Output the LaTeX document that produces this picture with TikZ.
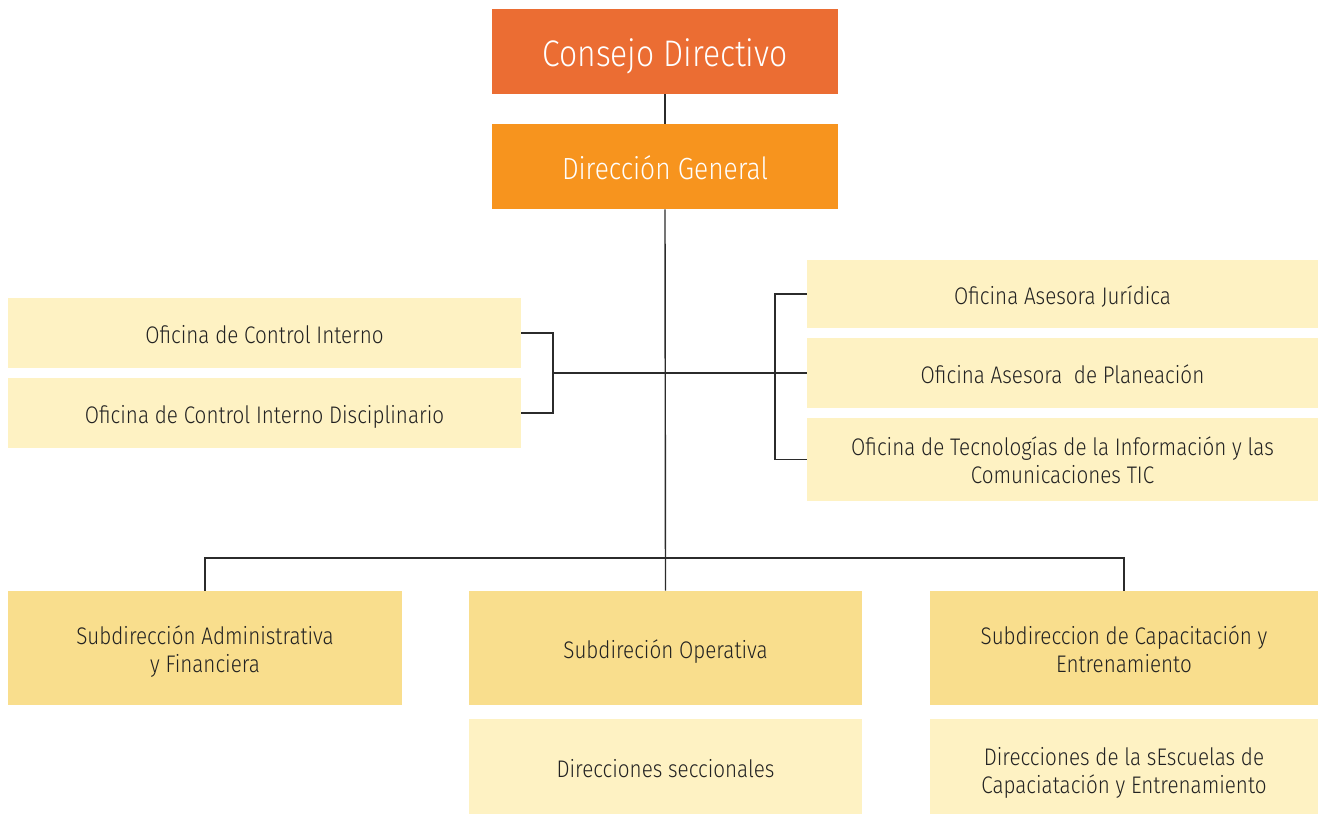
\documentclass[tikz,border=0pt]{standalone}
\usepackage{fontspec}
\setmainfont[FakeStretch=0.86, UprightFont={* Light}, BoldFont={*}]{Fira Sans}
\definecolor{cdcol}{HTML}{EB6D33}
\definecolor{dgcol}{HTML}{F7941E}
\definecolor{lightcol}{HTML}{FEF2C3}
\definecolor{subcol}{HTML}{F9DE8D}
\definecolor{linecol}{HTML}{2B2B2B}
\definecolor{txtcol}{HTML}{222222}
\tikzset{
  box/.style={rectangle, inner sep=0pt, align=center, text=txtcol, font=\fontsize{12}{14}\selectfont},
  one/.style={text height=10.6pt, text depth=0pt},
  two/.style={text height=#1, text depth=0pt},
  topbox/.style={box, text=white},
  conn/.style={draw=linecol, line width=0.7pt}
}
\begin{document}
\begin{tikzpicture}[x=0.5pt,y=-0.5pt]
\useasboundingbox (0,0) rectangle (1319,815);
\node[topbox, fill=cdcol, minimum width=173pt, minimum height=42.5pt, text height=15pt, text depth=0pt, font=\fontsize{18.5}{20}\selectfont] (cd) at (665,51.5) {Consejo Directivo};
\node[topbox, fill=dgcol, minimum width=173pt, minimum height=42.5pt, text height=12.9pt, text depth=0pt, font=\fontsize{15.3}{17}\selectfont] (dg) at (665,166.5) {Dirección General};
\node[box, one, fill=lightcol, minimum width=256.5pt, minimum height=35pt] (oci) at (264.5,333) {Oficina de Control Interno};
\node[box, one, fill=lightcol, minimum width=256.5pt, minimum height=35pt] (ocid) at (264.5,413) {Oficina de Control Interno Disciplinario};
\node[box, one, fill=lightcol, minimum width=255.5pt, minimum height=34pt] (oaj) at (1062.5,294) {Oficina Asesora Jurídica};
\node[box, one, fill=lightcol, minimum width=255.5pt, minimum height=35pt] (oap) at (1062.5,373) {Oficina Asesora\ \ de Planeación};
\node[box, two=23.7pt, fill=lightcol, minimum width=255.5pt, minimum height=41.5pt] (otic) at (1062.5,459.5) {Oficina de Tecnologías de la Información y las\\Comunicaciones TIC};
\node[box, two=24.2pt, fill=subcol, minimum width=197pt, minimum height=57pt] (sa) at (205,648) {Subdirección Administrativa\\y Financiera};
\node[box, one, fill=subcol, minimum width=196.5pt, minimum height=57pt] (so) at (665.5,648) {Subdireción Operativa};
\node[box, two=24.2pt, fill=subcol, minimum width=194pt, minimum height=57pt] (sc) at (1124,648) {Subdireccion de Capacitación y\\Entrenamiento};
\node[box, one, fill=lightcol, minimum width=196.5pt, minimum height=47.5pt] (ds) at (665.5,766.5) {Direcciones seccionales};
\node[box, two=26.7pt, fill=lightcol, minimum width=194pt, minimum height=47.5pt] (de) at (1124,766.5) {Direcciones de la sEscuelas de\\Capaciatación y Entrenamiento};
\coordinate (hy) at (0,558);
\coordinate (lb) at (553,373);
\coordinate (rb) at (775,373);
\draw[conn] (cd) -- (dg);
\draw[conn] (dg.south) -- (so.north);
\draw[conn] (sa.north) |- (hy -| so.north) -| (sc.north);
\draw[conn] (oci.east) -| (lb) |- (ocid.east);
\draw[conn] (oaj.west) -| (rb) |- (otic.west);
\draw[conn] (lb) -- (oap.west);
\end{tikzpicture}
\end{document}
